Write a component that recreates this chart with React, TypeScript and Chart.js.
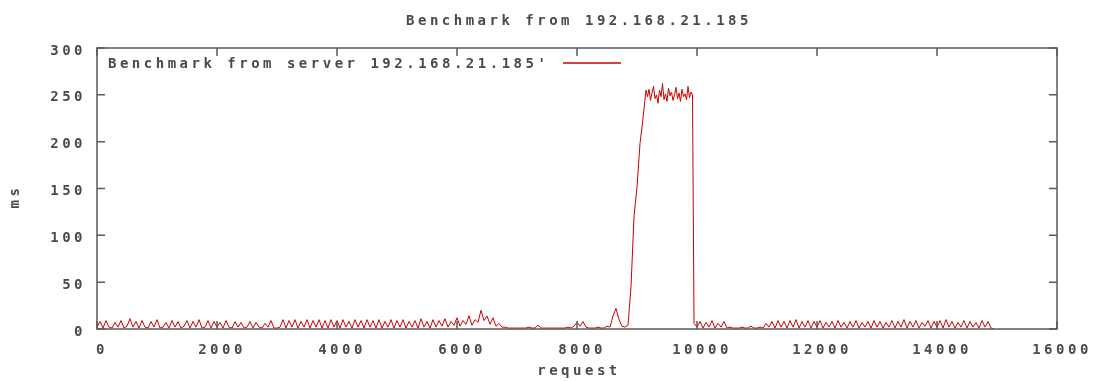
import React, { useEffect, useRef } from "react";
import { Chart, registerables } from "chart.js";

Chart.register(...registerables);

const chartTitle = "Benchmark from 192.168.21.185";
const seriesLabel = "Benchmark from server 192.168.21.185'";
const xAxisTitle = "request";
const yAxisTitle = "ms";

const xTickMin = 0;
const xTickMax = 16000;
const xTickStep = 2000;
const yTickMin = 0;
const yTickMax = 300;
const yTickStep = 50;

// segment A: requests 0..6750, every 50
const startA = 0;
const stepA = 50;
const valuesA = [
  2, 8, 1, 9, 2, 1, 7, 2, 9, 1,
  3, 11, 2, 8, 1, 9, 2, 1, 8, 2,
  10, 1, 2, 7, 1, 9, 2, 8, 1, 3,
  9, 1, 8, 2, 10, 1, 2, 9, 1, 8,
  2, 7, 1, 9, 2, 1, 8, 2, 7, 1,
  2, 8, 1, 7, 2, 1, 6, 2, 9, 1,
  1, 2, 10, 1, 9, 2, 10, 1, 8, 2,
  10, 1, 9, 2, 10, 1, 9, 1, 10, 2,
  9, 1, 10, 2, 8, 1, 10, 2, 9, 1,
  10, 2, 9, 1, 10, 1, 8, 2, 10, 1,
  9, 2, 10, 1, 8, 2, 9, 1, 11, 2,
  8, 1, 10, 2, 9, 3, 11, 2, 8, 4,
  12, 3, 9, 5, 14, 4, 10, 7, 20, 9,
  14, 5, 12, 3, 6, 2,
];

// segment B: requests 6800..8800, every 50 (quiet part)
const startB = 6800;
const stepB = 50;
const valuesB = [
  2, 1, 1, 1, 1, 1, 1, 1, 2, 1,
  1, 4, 1, 1, 1, 1, 1, 1, 1, 1,
  1, 2, 1, 3, 7, 3, 8, 2, 1, 1,
  1, 2, 1, 1, 3, 2, 14, 22, 10, 3,
  2,
];

// ramp: requests 8850..9150, every 50
const startRamp = 8850;
const stepRamp = 50;
const valuesRamp = [4, 45, 120, 152, 198, 225, 255];

// plateau: requests 9175..9925, every 25
const startPlateau = 9175;
const stepPlateau = 25;
const valuesPlateau = [
  248, 256, 244, 252, 259, 246, 250, 241, 255, 248,
  262, 245, 251, 243, 257, 249, 253, 244, 250, 258,
  246, 252, 243, 256, 248, 251, 245, 259, 247, 253,
  250,
];

// segment C: requests 9950..14950, every 50
const startC = 9950;
const stepC = 50;
const valuesC = [
  6, 2, 8, 1, 7, 2, 9, 1, 6, 2,
  8, 1, 2, 1, 1, 1, 2, 1, 1, 3,
  1, 1, 2, 1, 6, 2, 8, 1, 9, 2,
  8, 1, 9, 2, 10, 1, 8, 2, 9, 1,
  8, 2, 9, 1, 7, 2, 8, 1, 9, 2,
  7, 1, 8, 2, 9, 1, 7, 2, 8, 1,
  9, 2, 8, 1, 7, 2, 9, 1, 8, 2,
  10, 1, 8, 2, 9, 1, 7, 3, 9, 1,
  8, 2, 9, 1, 10, 2, 8, 1, 7, 2,
  9, 1, 8, 2, 7, 1, 9, 2, 8, 1,
  0,
];

function toPoints(start: number, step: number, values: number[]) {
  return values.map((v, i) => ({ x: start + i * step, y: v }));
}

const FONT = "DejaVu Sans Mono";
const FONT_SIZE = 14;
const FONT_WEIGHT = "bold";
const TEXT_COLOR = "#4a4a4a";
const FRAME_COLOR = "#5a5a5a";
const LINE_COLOR = "#cc0000";
const LETTER_SPACING = "3.5px";

const gnuplotPlugin = {
  id: "gnuplotDecor",
  beforeDraw(chart: any) {
    const ctx = chart.ctx;
    ctx.save();
    ctx.fillStyle = "#ffffff";
    ctx.fillRect(0, 0, chart.width, chart.height);
    ctx.restore();
    (ctx as any).letterSpacing = LETTER_SPACING;
  },
  afterDraw(chart: any) {
    const ctx = chart.ctx;
    const area = chart.chartArea;
    const xs = chart.scales.x;
    const ys = chart.scales.y;
    ctx.save();
    (ctx as any).letterSpacing = LETTER_SPACING;
    // frame
    ctx.strokeStyle = FRAME_COLOR;
    ctx.lineWidth = 1.5;
    ctx.strokeRect(area.left, area.top, area.right - area.left, area.bottom - area.top);
    // inward ticks on all sides
    const tl = 8;
    ctx.beginPath();
    for (let v = xTickMin; v <= xTickMax; v += xTickStep) {
      const px = xs.getPixelForValue(v);
      ctx.moveTo(px, area.bottom);
      ctx.lineTo(px, area.bottom - tl);
      ctx.moveTo(px, area.top);
      ctx.lineTo(px, area.top + tl);
    }
    for (let v = yTickMin; v <= yTickMax; v += yTickStep) {
      const py = ys.getPixelForValue(v);
      ctx.moveTo(area.left, py);
      ctx.lineTo(area.left + tl, py);
      ctx.moveTo(area.right, py);
      ctx.lineTo(area.right - tl, py);
    }
    ctx.stroke();

    ctx.fillStyle = TEXT_COLOR;
    ctx.font = `${FONT_WEIGHT} ${FONT_SIZE}px "${FONT}"`;
    ctx.textBaseline = "middle";
    // title
    ctx.textAlign = "center";
    ctx.fillText(chartTitle, (area.left + area.right) / 2 + 2, 21);
    // x axis title
    ctx.fillText(xAxisTitle, (area.left + area.right) / 2 + 2, 371);
    // y axis title (rotated)
    ctx.save();
    ctx.translate(15, (area.top + area.bottom) / 2 + 8);
    ctx.rotate(-Math.PI / 2);
    ctx.fillText(yAxisTitle, 0, 0);
    ctx.restore();
    // legend
    ctx.textAlign = "left";
    ctx.fillText(seriesLabel, area.left + 11, area.top + 16);
    ctx.strokeStyle = LINE_COLOR;
    ctx.lineWidth = 1.5;
    ctx.beginPath();
    ctx.moveTo(563, area.top + 15);
    ctx.lineTo(621, area.top + 15);
    ctx.stroke();
    ctx.restore();
  },
};

export default function App() {
  const canvasRef = useRef<HTMLCanvasElement | null>(null);

  useEffect(() => {
    if (!canvasRef.current) return;
    const data = [
      ...toPoints(startA, stepA, valuesA),
      ...toPoints(startB, stepB, valuesB),
      ...toPoints(startRamp, stepRamp, valuesRamp),
      ...toPoints(startPlateau, stepPlateau, valuesPlateau),
      ...toPoints(startC, stepC, valuesC),
    ];
    const tickFont = { family: FONT, size: FONT_SIZE, weight: "bold" as const };
    const chart = new Chart(canvasRef.current, {
      type: "line",
      data: {
        datasets: [
          {
            label: seriesLabel,
            data,
            borderColor: LINE_COLOR,
            borderWidth: 1,
            pointRadius: 0,
            tension: 0,
            fill: false,
          },
        ],
      },
      options: {
        animation: false,
        responsive: false,
        layout: { padding: { top: 48, right: 37, left: 0, bottom: 0 } },
        plugins: {
          legend: { display: false },
          title: { display: false },
          tooltip: { enabled: false },
        },
        scales: {
          x: {
            type: "linear",
            min: xTickMin,
            max: xTickMax,
            grid: { display: false, drawTicks: false },
            border: { display: false },
            afterFit: (s: any) => {
              s.height = 52;
            },
            ticks: {
              stepSize: xTickStep,
              autoSkip: false,
              maxRotation: 0,
              padding: 13,
              labelOffset: 5,
              color: TEXT_COLOR,
              font: tickFont,
              callback: (v: any) => String(v),
            },
          },
          y: {
            type: "linear",
            min: yTickMin,
            max: yTickMax,
            grid: { display: false, drawTicks: false },
            border: { display: false },
            afterFit: (s: any) => {
              s.width = 97;
            },
            ticks: {
              stepSize: yTickStep,
              padding: 11,
              labelOffset: 3,
              color: TEXT_COLOR,
              font: tickFont,
              callback: (v: any) => String(v),
            },
          },
        },
      },
      plugins: [gnuplotPlugin],
    });
    return () => chart.destroy();
  }, []);

  return (
    <div style={{ position: "absolute", left: 0, top: 0, width: 1094, height: 381, background: "#fff" }}>
      <canvas ref={canvasRef} width={1094} height={381} style={{ display: "block" }} />
    </div>
  );
}
